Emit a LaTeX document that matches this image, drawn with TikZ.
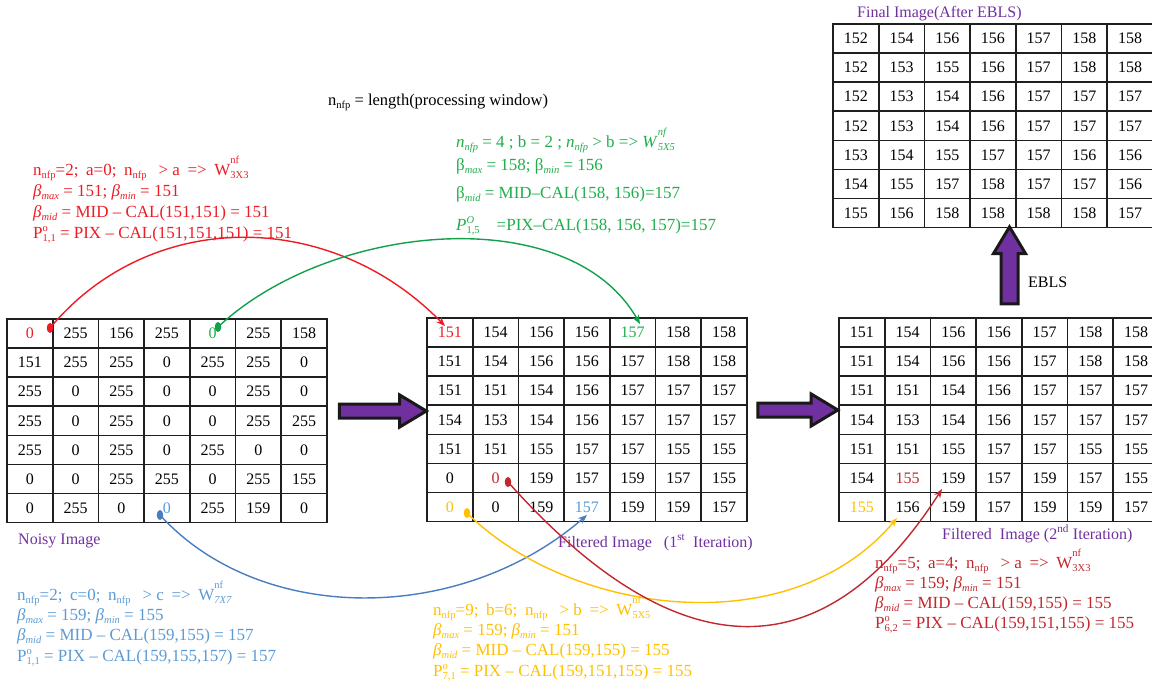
\documentclass[tikz,border=0pt]{standalone}
\usepackage{fontspec}
\setmainfont{Liberation Serif}
\usetikzlibrary{arrows.meta,shapes.geometric,shapes.arrows}

\definecolor{cRed}{HTML}{ED1C24}
\definecolor{cGreen}{HTML}{1FAE4B}
\definecolor{cGreenLine}{HTML}{12A04A}
\definecolor{cBlue}{HTML}{5B9BD5}
\definecolor{cBlueLine}{HTML}{4A7CC0}
\definecolor{cYellow}{HTML}{FFC000}
\definecolor{cDark}{HTML}{C1272D}
\definecolor{cPurple}{HTML}{7030A0}

% small lowered subscript in text
\newcommand{\sbs}[1]{\raisebox{-0.45ex}{\fontsize{10.5}{10.5}\selectfont #1}}
% superscript stacked over a subscript
\newcommand{\SupSub}[2]{\makebox[0pt][l]{\raisebox{0.85ex}{\fontsize{10.5}{10.5}\selectfont #1}}\raisebox{-0.5ex}{\fontsize{10.5}{10.5}\selectfont #2}}
% window symbol: superscript set high above the letter
\newcommand{\SupSubW}[2]{\makebox[0pt][l]{\raisebox{1.45ex}{\fontsize{10.5}{10.5}\selectfont #1}}\raisebox{-0.5ex}{\fontsize{10.5}{10.5}\selectfont #2}}
% wider word gap used in the window-size lines
\newcommand{\wg}{\hspace{0.45em}}

\tikzset{
  cell/.style={draw=black!88, line width=1.6pt, minimum width=45.7pt,
    minimum height=29pt, inner sep=0pt, font=\fontsize{16}{16}\selectfont},
  pdot/.style={ellipse, fill=#1, minimum width=6.5pt, minimum height=10pt, inner sep=0pt},
  conn/.style={draw=#1, line width=1.4pt, -{Stealth[length=9pt,width=7pt]}},
  fatarrow/.style={single arrow, draw=black!90, fill=cPurple, line width=3pt,
    inner sep=5.5pt, single arrow head extend=9pt, single arrow tip angle=62},
  txt/.style={anchor=base west, inner sep=0pt, font=\fontsize{17}{20}\selectfont, text=#1},
  lbl/.style={anchor=base west, inner sep=0pt, font=\fontsize{16}{20}\selectfont, text=cPurple}
}

% one row of a 7-column grid: prefix, x0, y0, row, values
\newcommand{\gridrow}[5]{%
  \foreach \v [count=\c] in {#5} {
    \node[cell] (#1-#4-\c) at ({#2+(\c-0.5)*45.7}, {#3+(#4-0.5)*29.1}) {\v};
  }%
}

\begin{document}
\begin{tikzpicture}[x=1pt,y=-1pt]
\useasboundingbox (0,0) rectangle (1152,686);

% ---------- noisy image ----------
\gridrow{N}{7}{319}{1}{{\color{cRed}0},255,156,255,{\color{cGreen}0},255,158}
\gridrow{N}{7}{319}{2}{151,255,255,0,255,255,0}
\gridrow{N}{7}{319}{3}{255,0,255,0,0,255,0}
\gridrow{N}{7}{319}{4}{255,0,255,0,0,255,255}
\gridrow{N}{7}{319}{5}{255,0,255,0,255,0,0}
\gridrow{N}{7}{319}{6}{0,0,255,255,0,255,155}
\gridrow{N}{7}{319}{7}{0,255,0,{\color{cBlue}0},255,159,0}
\node[lbl] (noisylbl) at (18,544) {Noisy Image};

% ---------- first iteration ----------
\gridrow{M}{427}{318}{1}{{\color{cRed}151},154,156,156,{\color{cGreen}157},158,158}
\gridrow{M}{427}{318}{2}{151,154,156,156,157,158,158}
\gridrow{M}{427}{318}{3}{151,151,154,156,157,157,157}
\gridrow{M}{427}{318}{4}{154,153,154,156,157,157,157}
\gridrow{M}{427}{318}{5}{151,151,155,157,157,155,155}
\gridrow{M}{427}{318}{6}{0,{\color{cDark}0},159,157,159,157,155}
\gridrow{M}{427}{318}{7}{{\color{cYellow}0},0,159,{\color{cBlue}157},159,159,157}
\node[lbl] (firstlbl) at (558,547) {Filtered Image\ \ \ (1\textsuperscript{st}\ \ Iteration)};

% ---------- second iteration ----------
\gridrow{R}{839}{318}{1}{151,154,156,156,157,158,158}
\gridrow{R}{839}{318}{2}{151,154,156,156,157,158,158}
\gridrow{R}{839}{318}{3}{151,151,154,156,157,157,157}
\gridrow{R}{839}{318}{4}{154,153,154,156,157,157,157}
\gridrow{R}{839}{318}{5}{151,151,155,157,157,155,155}
\gridrow{R}{839}{318}{6}{154,{\color{cDark}155},159,157,159,157,155}
\gridrow{R}{839}{318}{7}{{\color{cYellow}155},156,159,157,159,159,157}
\node[lbl] (secondlbl) at (942,539) {Filtered\ \ Image\ (2\textsuperscript{nd} Iteration)};

% ---------- final image ----------
\gridrow{F}{833}{24}{1}{152,154,156,156,157,158,158}
\gridrow{F}{833}{24}{2}{152,153,155,156,157,158,158}
\gridrow{F}{833}{24}{3}{152,153,154,156,157,157,157}
\gridrow{F}{833}{24}{4}{152,153,154,156,157,157,157}
\gridrow{F}{833}{24}{5}{153,154,155,157,157,156,156}
\gridrow{F}{833}{24}{6}{154,155,157,158,157,157,156}
\gridrow{F}{833}{24}{7}{155,156,158,158,158,158,157}
\node[lbl] (finallbl) at (857,17) {Final Image(After EBLS)};

% ---------- stage arrows ----------
\node[fatarrow, minimum height=87pt] (a1) at (377,411) {};
\node[fatarrow, minimum height=80pt] (a2) at (792,410) {};
\node[fatarrow, rotate=90, minimum height=77pt, inner sep=7pt, single arrow head extend=7.5pt] (a3) at (1009.5,272.5) {};
\node[anchor=base west, inner sep=0pt, font=\fontsize{16}{20}\selectfont] (ebls) at (1028,287) {EBLS};

% ---------- definition ----------
\node[anchor=base west, inner sep=0pt, font=\fontsize{16.5}{20}\selectfont] (defn) at (328,105) {n\sbs{nfp} = length(processing window)};

% ---------- red: pixel (1,1), first pass ----------
\node[txt=cRed] (r1) at (33,175) {n\sbs{nfp}=2;\wg a=0;\wg n\sbs{nfp}\wg\ > a\wg =>\wg W\SupSubW{nf}{3X3}};
\node[txt=cRed] (r2) at (33,196) {\textit{β}\sbs{\textit{max}} = 151; \textit{β}\sbs{\textit{min}} = 151};
\node[txt=cRed] (r3) at (33,217) {\textit{β}\sbs{\textit{mid}} = MID – CAL(151,151) = 151};
\node[txt=cRed] (r4) at (33,238) {P\SupSub{o}{1,1} = PIX – CAL(151,151,151) = 151};

% ---------- green: pixel (1,5) ----------
\node[txt=cGreen] (g1) at (456,147) {\textit{n}\sbs{\textit{nfp}} = 4 ; b = 2 ; \textit{n}\sbs{\textit{nfp}} > b => \textit{W}\SupSubW{\textit{nf}}{\textit{5X5}}};
\node[txt=cGreen] (g2) at (456,170) {β\sbs{\textit{max}} = 158; β\sbs{\textit{min}} = 156};
\node[txt=cGreen] (g3) at (456,198) {β\sbs{\textit{mid}} = MID–CAL(158, 156)=157};
\node[txt=cGreen] (g4) at (456,230) {\textit{P}\SupSub{\textit{O}}{1,5}\ \ \ \ =PIX–CAL(158, 156, 157)=157};

% ---------- blue: pixel (7,4) ----------
\node[txt=cBlue] (b1) at (17,600) {n\sbs{nfp}=2;\wg c=0;\wg n\sbs{nfp}\wg\ > c\wg =>\wg W\SupSubW{nf}{\textit{7X7}}};
\node[txt=cBlue] (b2) at (17,620) {\textit{β}\sbs{\textit{max}} = 159; \textit{β}\sbs{\textit{min}} = 155};
\node[txt=cBlue] (b3) at (17,640) {\textit{β}\sbs{\textit{mid}} = MID – CAL(159,155) = 157};
\node[txt=cBlue] (b4) at (17,661) {P\SupSub{o}{1,1} = PIX – CAL(159,155,157) = 157};

% ---------- yellow: pixel (7,1) ----------
\node[txt=cYellow] (y1) at (433,615) {n\sbs{nfp}=9;\wg b=6;\wg n\sbs{nfp}\wg\ > b\wg =>\wg W\SupSubW{nf}{5X5}};
\node[txt=cYellow] (y2) at (433,635) {\textit{β}\sbs{\textit{max}} = 159; \textit{β}\sbs{\textit{min}} = 151};
\node[txt=cYellow] (y3) at (433,655) {\textit{β}\sbs{\textit{mid}} = MID – CAL(159,155) = 155};
\node[txt=cYellow] (y4) at (433,676) {P\SupSub{o}{7,1} = PIX – CAL(159,151,155) = 155};

% ---------- dark red: pixel (6,2) ----------
\node[txt=cDark] (d1) at (875,568) {n\sbs{nfp}=5;\wg a=4;\wg n\sbs{nfp}\wg\ > a\wg =>\wg W\SupSubW{nf}{3X3}};
\node[txt=cDark] (d2) at (875,588) {\textit{β}\sbs{\textit{max}} = 159; \textit{β}\sbs{\textit{min}} = 151};
\node[txt=cDark] (d3) at (875,608) {\textit{β}\sbs{\textit{mid}} = MID – CAL(159,155) = 155};
\node[txt=cDark] (d4) at (875,628) {P\SupSub{o}{6,2} = PIX – CAL(159,151,155) = 155};

% ---------- tracked pixels and their paths ----------
\node[pdot=cRed] (rdot) at (50,328) {};
\node[pdot=cGreenLine] (gdot) at (218,327) {};
\node[pdot=cBlueLine] (bdot) at (160,515) {};
\node[pdot=cYellow] (ydot) at (467,513) {};
\node[pdot=cDark] (ddot) at (508,482) {};

\coordinate (rtip) at (445,326);
\coordinate (gtip) at (640,324);
\coordinate (btip) at (587,515);
\coordinate (ytip) at (897,518);
\coordinate (dtip) at (942,489);

\draw[conn=cRed] (rdot.center) .. controls (150,208) and (330,208) .. (rtip);
\draw[conn=cGreenLine] (gdot.center) .. controls (330,222) and (570,200) .. (gtip);
\draw[conn=cBlueLine] (bdot.center) .. controls (260,625) and (460,625) .. (btip);
\draw[conn=cYellow] (ydot.center) .. controls (570,615) and (790,645) .. (ytip);
\draw[conn=cDark] (ddot.center) .. controls (640,630) and (800,710) .. (dtip);
\end{tikzpicture}
\end{document}
